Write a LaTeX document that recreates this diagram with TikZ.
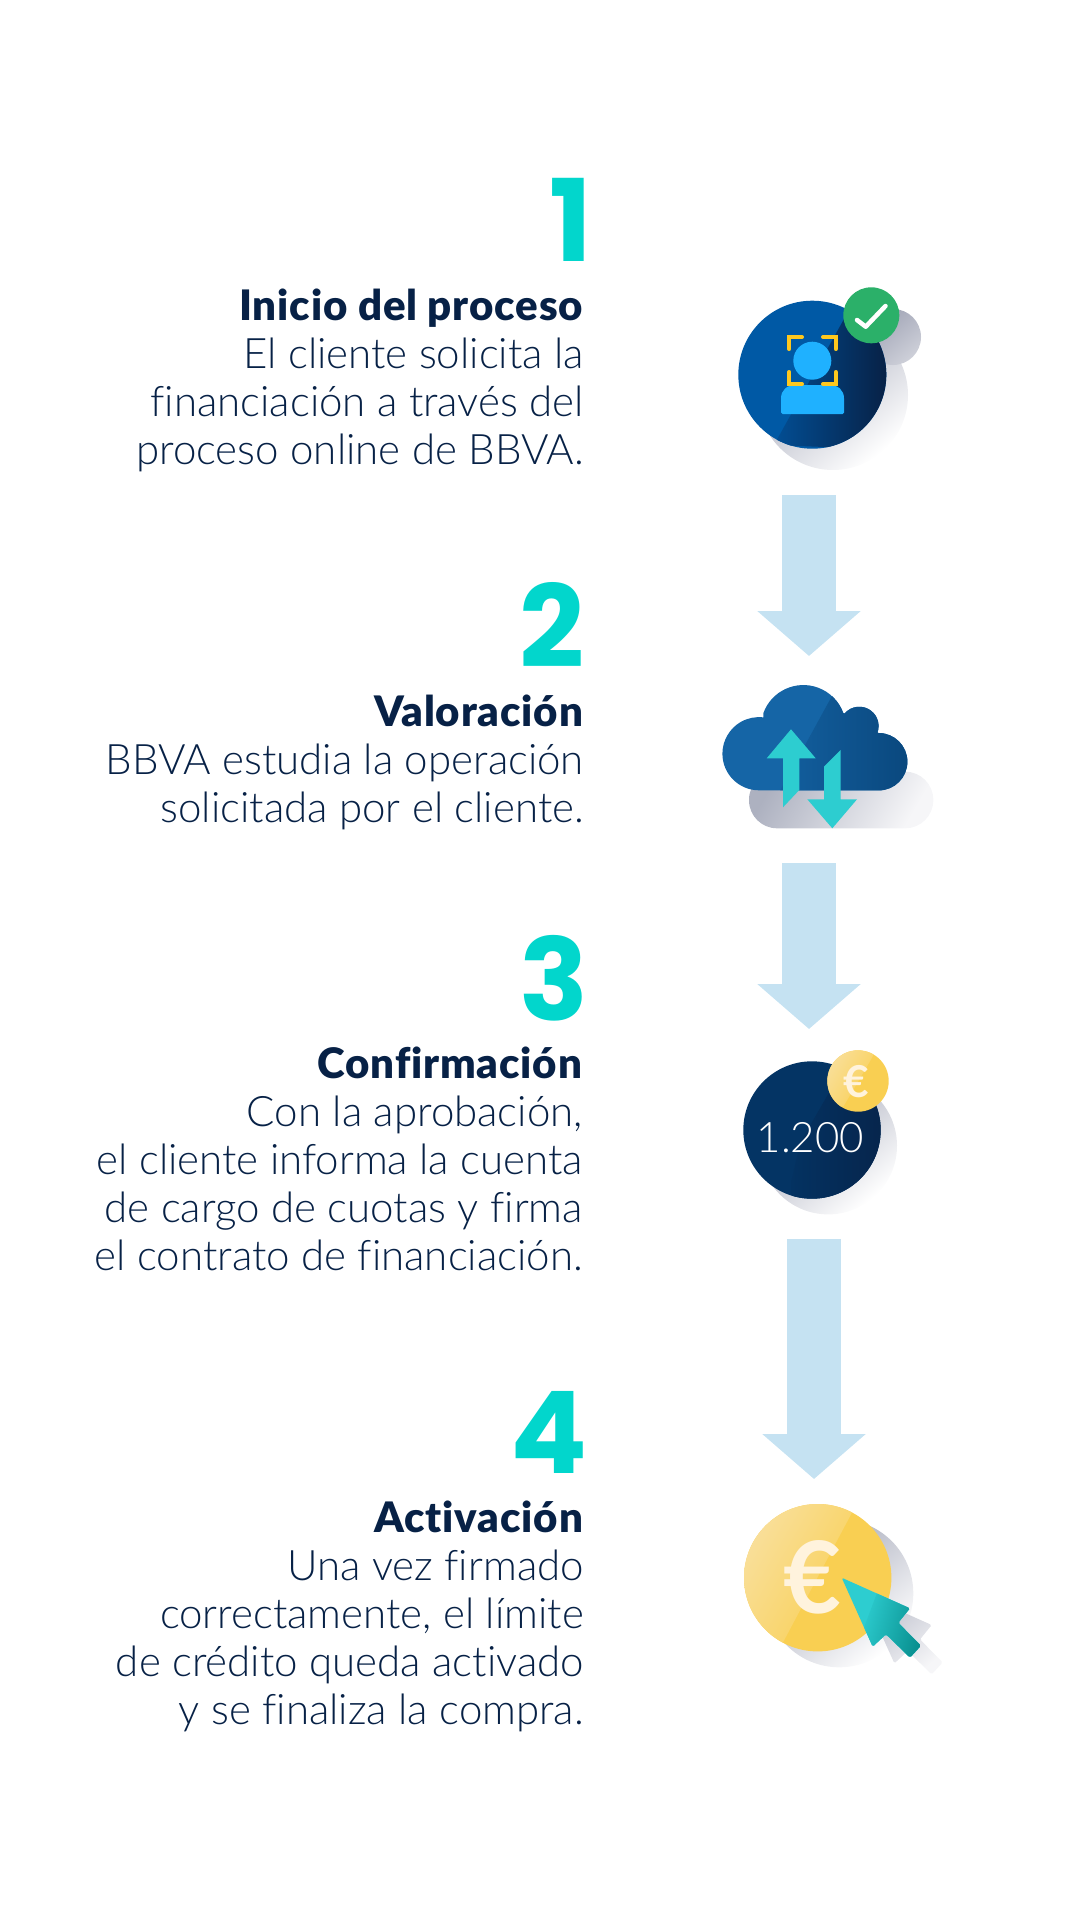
\documentclass[tikz,border=0pt]{standalone}
\usepackage{fontspec}
\setmainfont{Lato}[UprightFont=* Light,BoldFont=* Black,Ligatures=NoCommon,BoldFeatures={LetterSpace=2}]
\newfontfamily\numfont{Poppins Bold}
\newfontfamily\eurofont{Lato Bold}
\usetikzlibrary{arrows.meta}
\definecolor{navy}{HTML}{072146}
\definecolor{numteal}{HTML}{02D6CC}
\definecolor{flowblue}{HTML}{C5E2F2}
\definecolor{shadowgrey}{HTML}{9DA1B3}
\definecolor{shadowcloud}{HTML}{ADB1C0}
\definecolor{shadowpale}{HTML}{F6F6F8}
\definecolor{coinlight}{HTML}{F9DF9A}
\definecolor{coinyellow}{HTML}{F9CF52}
\definecolor{eurocream}{HTML}{FFF3DD}
\definecolor{aqua}{HTML}{2DCDD0}
\definecolor{aquadark}{HTML}{098F8F}
\definecolor{discblue}{HTML}{0059A5}
\definecolor{discmid}{HTML}{024E94}
\definecolor{personblue}{HTML}{1FB1FF}
\definecolor{frameyellow}{HTML}{FFC81E}
\definecolor{checkgreen}{HTML}{2BB069}
\definecolor{cloudblue}{HTML}{1565A6}
\definecolor{cloudmid}{HTML}{1360A0}
\definecolor{clouddark}{HTML}{0A487E}
\definecolor{amountblue}{HTML}{043464}
\definecolor{amountmid}{HTML}{043261}

\begin{document}
\begin{tikzpicture}[x=1pt, y=1pt, yscale=-1,
  stepnum/.style={anchor=base east, inner sep=0pt, text=numteal, font=\numfont\fontsize{114}{114}\selectfont},
  steptext/.style={anchor=north east, inner sep=0pt, align=right, text=navy, font=\fontsize{42}{48}\selectfont},
  flow/.style={line width=54pt, flowblue, -{Triangle[width=101pt, length=45pt]}},
  shadowdisc/.style={top color=shadowgrey, bottom color=white, shading angle=40},
  eurosign/.style={inner sep=0pt, text=eurocream, font=\eurofont\fontsize{#1}{#1}\selectfont},
]
\useasboundingbox (0,0) rectangle (1081,1921);

% Step texts
\node[stepnum] (num1) at (593,261) {1};
\node[steptext] (text1) at (584,289) {\textbf{Inicio del proceso}\\El cliente solicita la\\financiación a través del\\proceso online de BBVA.};
\node[stepnum] (num2) at (585,667) {2};
\node[steptext] (text2) at (584,695) {\textbf{Valoración}\\BBVA estudia la operación\\solicitada por el cliente.};
\node[stepnum] (num3) at (589,1020) {3};
\node[steptext] (text3) at (583,1047) {\textbf{Confirmación}\\Con la aprobación,\\el cliente informa la cuenta\\de cargo de cuotas y firma\\el contrato de financiación.};
\node[stepnum] (num4) at (588,1473) {4};
\node[steptext] (text4) at (584,1501) {\textbf{Activación}\\Una vez firmado\\correctamente, el límite\\de crédito queda activado\\y se finaliza la compra.};

% Flow arrows
\coordinate (flow1a) at (809,495);
\coordinate (flow1b) at (809,656);
\coordinate (flow2a) at (809,863);
\coordinate (flow2b) at (809,1029);
\coordinate (flow3a) at (814,1239);
\coordinate (flow3b) at (814,1479);
\draw[flow] (flow1a) -- (flow1b);
\draw[flow] (flow2a) -- (flow2b);
\draw[flow] (flow3a) -- (flow3b);

% Icon 1: person check
\shade[shadowdisc] (833,395) circle[radius=75];
\shade[top color=shadowgrey, bottom color=shadowgrey!50!white, shading angle=40] (893,337) circle[radius=28];
\fill[discblue] (812.3,374.7) circle[radius=74];
\begin{scope}
  \clip (812.3,374.7) circle[radius=74];
  \clip (849,310) -- (900,300) -- (900,450) -- (774,445) -- cycle;
  \shade[left color=discmid, right color=navy] (774,300) rectangle (887,450);
\end{scope}
\fill[personblue] (812.3,360.7) circle[radius=19];
\fill[personblue, rounded corners=1.5pt] (781,414) -- (781,400)
  .. controls (781,390) and (787,385) .. (797,385) -- (828,385)
  .. controls (838,385) and (844,390) .. (844,400) -- (844,414) -- cycle;
\draw[line width=4pt, line cap=round, frameyellow]
  (802,337) -- (789.3,337) -- (789.3,349)
  (823,337) -- (835.7,337) -- (835.7,349)
  (789.3,372) -- (789.3,384) -- (802,384)
  (835.7,372) -- (835.7,384) -- (823,384);
\fill[checkgreen] (871.3,315.3) circle[radius=28];
\draw[white, line width=4.5pt, line cap=round, line join=round] (857,320) -- (865.7,326.7) -- (885.5,306);

% Icon 2: cloud
\shade[top color=shadowcloud, bottom color=shadowpale, shading angle=60, rounded corners=28pt] (749,771.7) rectangle (933.3,828.3);
\def\cloudpath{(759,790.3) arc[start angle=90, end angle=277, radius=36.6]
  -- (763.4,713) arc[start angle=200, end angle=340, radius=42.5]
  -- (844.5,713.6) arc[start angle=220, end angle=380, radius=19.3]
  -- (878.7,733) arc[start angle=270, end angle=450, radius=28.7] -- cycle}
\fill[cloudblue] \cloudpath;
\begin{scope}
  \clip \cloudpath;
  \clip (838,685) -- (920,685) -- (920,800) -- (775,800) -- cycle;
  \shade[left color=cloudmid, right color=clouddark] (775,680) rectangle (908,800);
\end{scope}
\fill[aqua] (791,729.3) -- (815.7,758.3) -- (799.3,758.3) -- (799.3,790) -- (783,807.3) -- (783,758.3) -- (766.7,758.3) -- cycle;
\fill[aqua] (832.3,828.3) -- (807.3,799.3) -- (824,799.3) -- (824,766.7) -- (840.7,750) -- (840.7,799.3) -- (857,799.3) -- cycle;

% Icon 3: amount
\shade[shadowdisc] (828.3,1145.7) circle[radius=68.7];
\fill[amountblue] (812,1130) circle[radius=68.7];
\begin{scope}
  \clip (812,1130) circle[radius=68.7];
  \clip (845,1065) -- (890,1065) -- (890,1210) -- (791.7,1210) -- (791.7,1180) -- (800,1143) -- cycle;
  \shade[left color=amountmid, right color=navy!75!amountmid] (791,1060) rectangle (881,1210);
\end{scope}
\node[inner sep=0pt, text=white, font=\fontsize{42}{42}\selectfont] (amount) at (810.3,1137.3) {1.200};
\fill[coinyellow] (858,1081) circle[radius=30.7];
\begin{scope}
  \clip (858,1081) circle[radius=30.7];
  \clip (871.7,1058.3) -- (843.3,1106.7) -- (820,1106) -- (820,1040) -- (880,1040) -- cycle;
  \shade[top color=coinlight, bottom color=coinyellow, shading angle=60] (825,1050) rectangle (875,1110);
\end{scope}
\node[eurosign=44] (euro1) at (856,1082) {€};

% Icon 4: coin and cursor
\def\cursorpath{(841.7,1577.7) -- (910,1608.3) -- (898.3,1622.7) -- (921,1645.7) -- (910,1657.7) -- (886,1634.3) -- (872.7,1646.7) -- cycle}
\shade[shadowdisc] (839.3,1593.3) circle[radius=74];
\begin{scope}[shift={(21.7,16.7)}]
  \shade[top color=shadowgrey!70, bottom color=shadowpale, shading angle=40, rounded corners=1.5pt] \cursorpath;
\end{scope}
\fill[coinyellow] (817.7,1577.7) circle[radius=73.7];
\begin{scope}
  \clip (817.7,1577.7) circle[radius=73.7];
  \clip (856,1505) -- (780,1648) -- (730,1648) -- (730,1500) -- cycle;
  \shade[top color=coinlight, bottom color=coinyellow, shading angle=60] (744,1504) rectangle (858,1650);
\end{scope}
\node[eurosign=100] (euro2) at (812,1577) {€};
\fill[aqua, rounded corners=1.5pt] \cursorpath;
\begin{scope}
  \clip[rounded corners=1.5pt] \cursorpath;
  \clip (880,1585) -- (930,1585) -- (930,1665) -- (850,1665) -- cycle;
  \shade[left color=aqua, right color=aquadark, shading angle=75] (860,1590) rectangle (922,1660);
\end{scope}
\end{tikzpicture}
\end{document}
